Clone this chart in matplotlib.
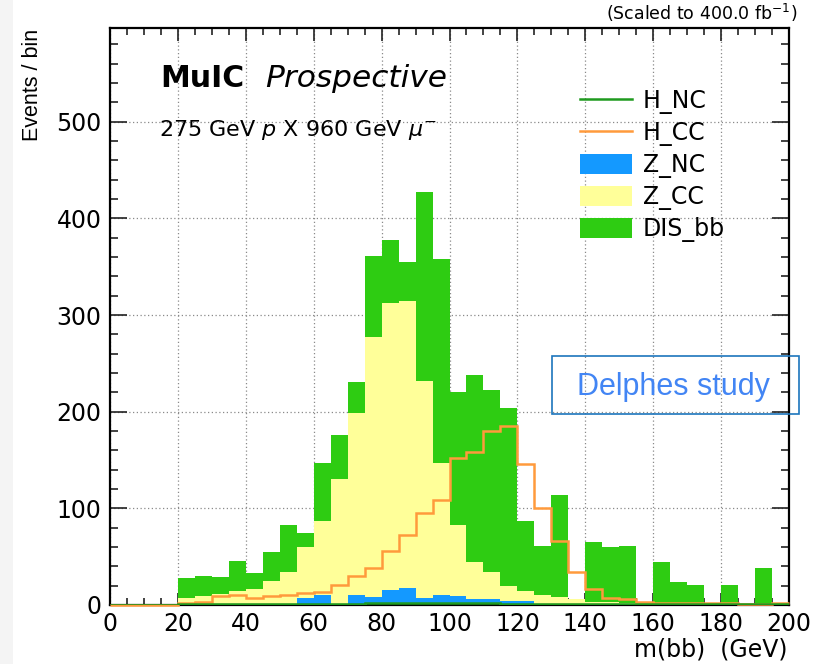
import numpy as np
import matplotlib
matplotlib.use("Agg")
import matplotlib.pyplot as plt
from matplotlib.patches import Patch, Rectangle
from matplotlib.lines import Line2D
from matplotlib.ticker import MultipleLocator

plt.rcParams['font.family'] = ['DejaVu Sans']
plt.rcParams['mathtext.fontset'] = 'dejavusans'

# ---- data: 5 GeV bins from 0 to 200 GeV ----
bin_edges = np.arange(0, 205, 5)

z_nc = [0, 0, 0, 0, 0.5, 0.5, 0.5, 1.5, 0.8, 1.0, 1.0, 7.5, 10, 0.5, 10, 8, 16, 18, 7, 10.5,
        9.5, 6, 6, 4.6, 4, 0.8, 0.5, 0.3, 0.3, 0.3, 0.3, 0.3, 0.3, 0.3, 0.3, 0.2, 0.2, 0.2, 0.2, 0.2]
z_cc = [0, 0, 0, 0, 6.5, 8.5, 10.5, 13.5, 16.2, 24, 33, 52.5, 77, 129.5, 189, 269, 296, 297, 225, 136.5,
        73.5, 39, 28, 15.4, 10.6, 9.6, 7.8, 5.7, 3.2, 2.5, 2.1, 1.7, 1.2, 1.2, 0.9, 0.8, 0.8, 0.8, 0.8, 0.8]
dis_bb = [0, 0, 0, 0, 21, 21, 18, 31, 16, 30, 49, 14, 60, 46, 32, 84, 66, 40, 195, 211,
          137, 193, 188, 184, 72.4, 50.6, 105.7, 0, 61.5, 57.2, 58.6, 0, 43.5, 22.5, 19.8, 0, 20, 0, 37, 0]
h_cc = [0, 0, 0, 0, 2, 3.5, 9, 10.2, 7.6, 9.2, 10.8, 12, 13.5, 20.8, 30, 38, 56, 72.7, 95, 108.7,
        152, 158, 180, 185, 146, 100.5, 66.5, 34, 17, 7.6, 6.2, 3.5, 2.4, 2.4, 1.7, 1.7, 1.7, 0.7, 1.0, 2.4]
h_nc = [0, 0, 0, 0, 0.8, 1, 1, 1.2, 1, 1, 1.2, 1.2, 1.5, 1.5, 1.5, 1.8, 2, 2, 2, 2,
        2, 1.8, 1.8, 1.5, 1.5, 1.2, 1.2, 1, 1, 1, 0.8, 0.8, 0.8, 0.8, 0.8, 0.8, 0.8, 0.8, 0.8, 0.8]

labels = ["H_NC", "H_CC", "Z_NC", "Z_CC", "DIS_bb"]
c_hnc, c_hcc, c_znc, c_zcc, c_dis = "#1f9a1f", "#ff9a3c", "#1499ff", "#ffff99", "#2ecc12"

W, H = 819, 664
fig = plt.figure(figsize=(W / 100, H / 100), dpi=100)
fig.patches.append(Rectangle((0, 0), 13 / W, 1, transform=fig.transFigure,
                             facecolor="#f4f4f4", edgecolor="none", zorder=0))
ax = fig.add_axes([110 / W, 1 - 605 / H, 679 / W, 577 / H])

b1 = np.array(z_nc)
b2 = b1 + np.array(z_cc)
b3 = b2 + np.array(dis_bb)
ax.stairs(b1, bin_edges, baseline=0, fill=True, color=c_znc, lw=0, zorder=2)
ax.stairs(b2, bin_edges, baseline=b1, fill=True, color=c_zcc, lw=0, zorder=2)
ax.stairs(b3, bin_edges, baseline=b2, fill=True, color=c_dis, lw=0, zorder=2)
ax.stairs(h_cc, bin_edges, baseline=None, color=c_hcc, lw=1.8, zorder=3, clip_on=False)
ax.stairs(h_nc, bin_edges, baseline=None, color=c_hnc, lw=1.8, zorder=3)

ax.set_xlim(0, 200)
ax.set_ylim(0, 597)
ax.xaxis.set_major_locator(MultipleLocator(20))
ax.xaxis.set_minor_locator(MultipleLocator(5))
ax.yaxis.set_major_locator(MultipleLocator(100))
ax.yaxis.set_minor_locator(MultipleLocator(20))
ax.tick_params(axis="both", which="both", direction="in", top=True, right=True,
               width=1.2, color="#222222")
ax.tick_params(axis="x", which="major", length=9, pad=5, labelsize=17)
ax.tick_params(axis="x", which="minor", length=5)
ax.tick_params(axis="y", which="major", length=12, pad=6, labelsize=17)
ax.tick_params(axis="y", which="minor", length=6)
for s in ax.spines.values():
    s.set_linewidth(1.6)
    s.set_zorder(2.5)
ax.set_axisbelow(True)
ax.grid(True, which="major", color="#8a8a8a", ls=(0, (1, 2)), lw=0.9)

handles = [Line2D([], [], color=c_hnc, lw=1.8),
           Line2D([], [], color=c_hcc, lw=1.8),
           Patch(facecolor=c_znc, edgecolor="none"),
           Patch(facecolor=c_zcc, edgecolor="none"),
           Patch(facecolor=c_dis, edgecolor="none")]
ax.legend(handles, labels, loc="upper left", bbox_to_anchor=((580 - 110) / 679, (605 - 89) / 577),
          frameon=False, fontsize=17, handlelength=2.2, handleheight=0.95, handletextpad=0.45,
          labelspacing=0.3, borderpad=0, borderaxespad=0)

ax.text((160 - 110) / 679, (605 - 87) / 577, "MuIC", transform=ax.transAxes,
        fontsize=21.5, fontweight="bold", ha="left", va="baseline")
ax.text((265 - 110) / 679, (605 - 87) / 577, "Prospective", transform=ax.transAxes,
        fontsize=22.5, style="italic", ha="left", va="baseline")
ax.text((159 - 110) / 679, (605 - 136) / 577, r"275 GeV $p$ X 960 GeV $\mu^{-}$",
        transform=ax.transAxes, fontsize=16, ha="left", va="baseline")

fig.text(797 / W, 1 - 20 / H, r"(Scaled to 400.0 fb$^{-1}$)", fontsize=12.5, ha="right", va="baseline")
fig.text(33 / W, 1 - 29 / H, "Events / bin", fontsize=15.5, family="Liberation Sans",
         rotation=90, ha="center", va="top")
fig.text(787 / W, 1 - 650 / H, "m(bb)  (GeV)", fontsize=17, ha="right", va="center")

fig.patches.append(Rectangle((552 / W, 1 - 414 / H), 247 / W, 58 / H, transform=fig.transFigure,
                             facecolor="none", edgecolor="#1c75bc", lw=1.2, zorder=5))
fig.text(673 / W, 1 - 395 / H, "Delphes study", fontsize=22, family="Liberation Sans",
         color="#4285f4", ha="center", va="baseline", zorder=6)

fig.savefig("out.png", dpi=100)
